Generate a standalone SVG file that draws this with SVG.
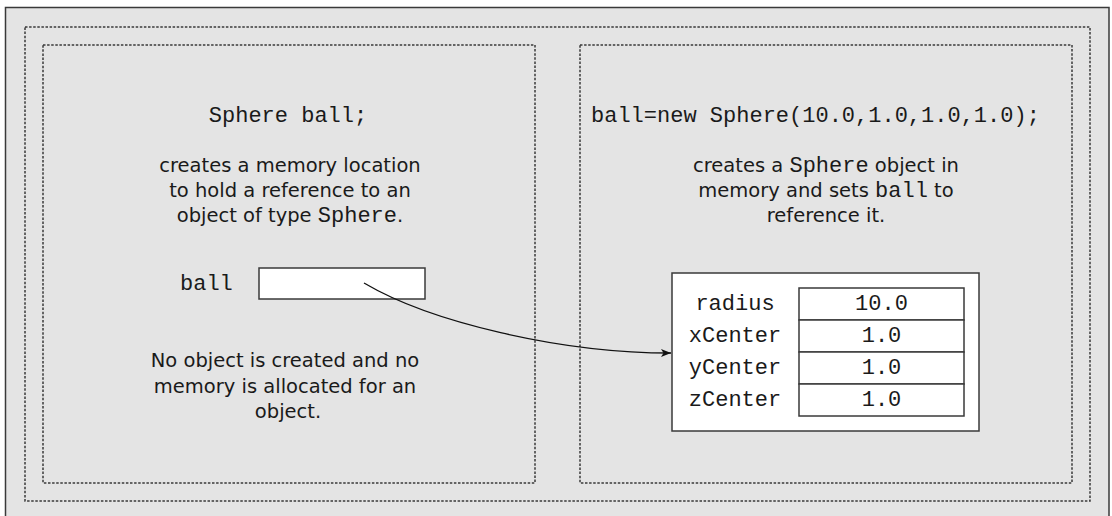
<svg xmlns="http://www.w3.org/2000/svg" width="1112" height="516" viewBox="0 0 1112 516">
  <defs>
    <style>
      .frame { fill: #e4e4e4; stroke: #3a3a3a; stroke-width: 1.5; }
      .dot { fill: none; stroke: #3a3a3a; stroke-width: 1.5; stroke-dasharray: 2.5 1.6; }
      .box { fill: #ffffff; stroke: #3a3a3a; stroke-width: 1.5; }
      .sans { font-family: "DejaVu Sans", "Liberation Sans", sans-serif; font-size: 19.5px; fill: #1a1a1a; }
      .mono { font-family: "Liberation Mono", "Courier New", monospace; font-size: 22px; fill: #1a1a1a; }
      .conn { fill: none; stroke: #111; stroke-width: 1.3; }
    </style>
    <marker id="arrow" viewBox="0 0 10 8" refX="10" refY="4" markerWidth="10" markerHeight="8" markerUnits="userSpaceOnUse" orient="auto">
      <path d="M0,0 L10,4 L0,8 L2.5,4 Z" fill="#111"/>
    </marker>
  </defs>
  <rect width="1112" height="516" fill="#ffffff"/>
  <rect class="frame" x="5.5" y="7.5" width="1103.5" height="520"/>
  <rect class="dot" x="25" y="27" width="1065" height="474"/>

  <g id="left-panel">
    <rect class="dot" x="43" y="45" width="492" height="438"/>
    <text class="mono" x="288" y="122" text-anchor="middle">Sphere ball;</text>
    <text class="sans" x="290" y="172" text-anchor="middle">creates a memory location</text>
    <text class="sans" x="290" y="197" text-anchor="middle">to hold a reference to an</text>
    <text class="sans" x="290" y="222" text-anchor="middle">object of type <tspan class="mono">Sphere</tspan>.</text>
    <text class="sans" x="285" y="367" text-anchor="middle">No object is created and no</text>
    <text class="sans" x="285" y="393" text-anchor="middle">memory is allocated for an</text>
    <text class="sans" x="288" y="418" text-anchor="middle">object.</text>
  </g>

  <g id="ball-variable">
    <text class="mono" x="180" y="290">ball</text>
    <rect class="box" x="259" y="268" width="166" height="31"/>
  </g>

  <g id="right-panel">
    <rect class="dot" x="580" y="45" width="492" height="438"/>
    <text class="mono" x="591" y="122">ball=new Sphere(10.0,1.0,1.0,1.0);</text>
    <text class="sans" x="826" y="172" text-anchor="middle">creates a <tspan class="mono">Sphere</tspan> object in</text>
    <text class="sans" x="826" y="197" text-anchor="middle">memory and sets <tspan class="mono">ball</tspan> to</text>
    <text class="sans" x="826" y="222" text-anchor="middle">reference it.</text>
  </g>

  <g id="sphere-object">
    <rect class="box" x="672" y="273" width="307" height="158"/>
    <rect class="box" x="799" y="288" width="165" height="32"/>
    <rect class="box" x="799" y="320" width="165" height="32"/>
    <rect class="box" x="799" y="352" width="165" height="32"/>
    <rect class="box" x="799" y="384" width="165" height="32"/>
    <text class="mono" x="735" y="310" text-anchor="middle">radius</text>
    <text class="mono" x="735" y="342" text-anchor="middle">xCenter</text>
    <text class="mono" x="735" y="374" text-anchor="middle">yCenter</text>
    <text class="mono" x="735" y="406" text-anchor="middle">zCenter</text>
    <text class="mono" x="881.5" y="310" text-anchor="middle">10.0</text>
    <text class="mono" x="881.5" y="342" text-anchor="middle">1.0</text>
    <text class="mono" x="881.5" y="374" text-anchor="middle">1.0</text>
    <text class="mono" x="881.5" y="406" text-anchor="middle">1.0</text>
  </g>

  <g id="connectors">
    <path class="conn" d="M364,283 C430,322 560,353 671,353" marker-end="url(#arrow)"/>
  </g>
</svg>
